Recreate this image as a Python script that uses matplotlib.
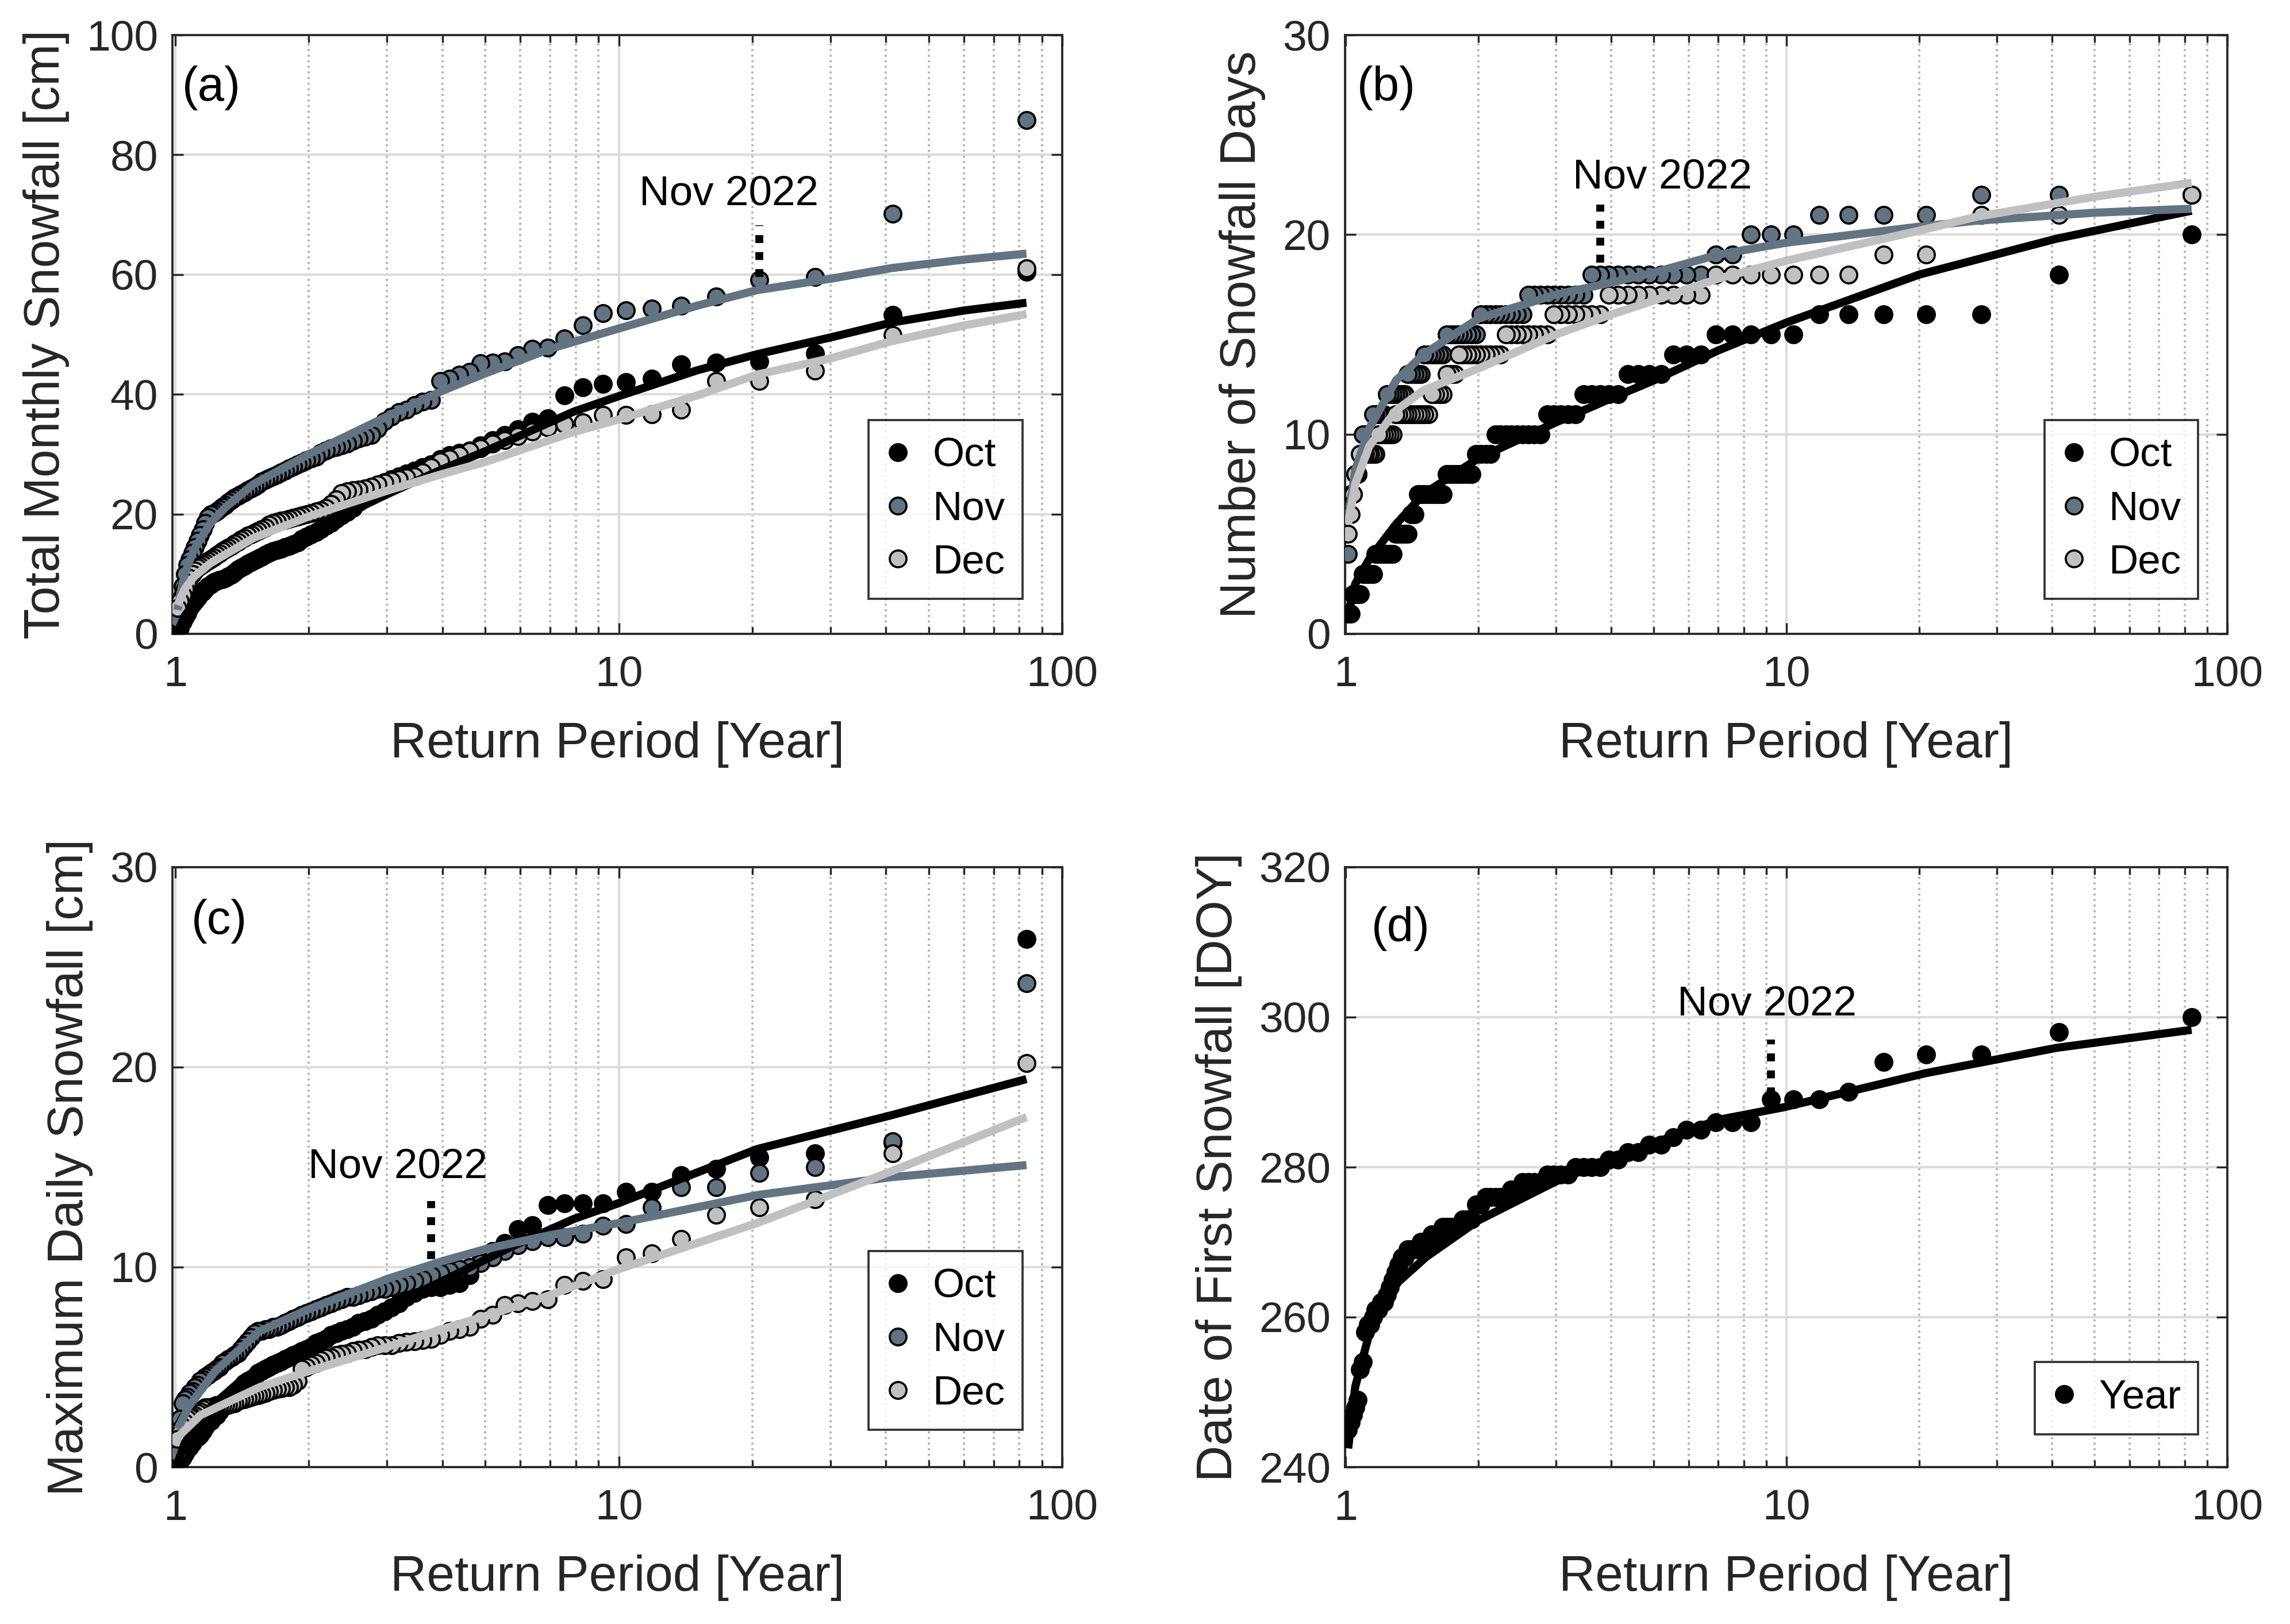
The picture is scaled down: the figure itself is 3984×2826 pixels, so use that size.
import matplotlib
matplotlib.use("Agg")
import matplotlib.pyplot as plt
from matplotlib.ticker import FixedLocator, FixedFormatter, LogLocator, NullFormatter

plt.rcParams['font.family'] = ['Liberation Sans', 'DejaVu Sans']

# return period [year] of each rank (rank 1 = largest of the 82 years)
return_period = [83.0, 41.5, 27.667, 20.75, 16.6, 13.833, 11.857, 10.375, 9.222, 8.3,
                 7.545, 6.917, 6.385, 5.929, 5.533, 5.188, 4.882, 4.611, 4.368, 4.15,
                 3.952, 3.773, 3.609, 3.458, 3.32, 3.192, 3.074, 2.964, 2.862, 2.767,
                 2.677, 2.594, 2.515, 2.441, 2.371, 2.306, 2.243, 2.184, 2.128, 2.075,
                 2.024, 1.976, 1.93, 1.886, 1.844, 1.804, 1.766, 1.729, 1.694, 1.66,
                 1.627, 1.596, 1.566, 1.537, 1.509, 1.482, 1.456, 1.431, 1.407, 1.383,
                 1.361, 1.339, 1.317, 1.297, 1.277, 1.258, 1.239, 1.221, 1.203, 1.186,
                 1.169, 1.153, 1.137, 1.122, 1.107, 1.092, 1.078, 1.064, 1.051, 1.038,
                 1.025, 1.012]

# (a) total monthly snowfall [cm], sorted by rank
a_oct = [60.5, 53.3, 46.8, 45.5, 45.3, 45.0, 42.6, 42.0, 41.7, 41.2,
         39.8, 36.0, 35.4, 34.2, 33.2, 32.3, 31.5, 30.6, 30.2, 29.8,
         29.2, 28.3, 27.8, 27.3, 26.8, 26.3, 25.8, 25.3, 24.8, 24.0,
         23.0, 22.0, 21.0, 20.3, 19.8, 19.2, 18.5, 18.0, 17.5, 17.0,
         16.6, 16.2, 15.8, 15.3, 15.0, 14.7, 14.5, 14.2, 14.0, 13.8,
         13.5, 13.2, 12.9, 12.6, 12.3, 12.0, 11.7, 11.3, 11.0, 10.7,
         10.3, 9.9, 9.6, 9.3, 9.1, 9.0, 8.8, 8.6, 8.3, 8.0,
         7.5, 7.0, 6.6, 6.0, 5.5, 5.0, 4.3, 3.5, 2.8, 2.0,
         1.0, 0.3]
a_nov = [85.8, 70.2, 59.6, 59.1, 56.3, 54.8, 54.3, 54.0, 53.6, 51.5,
         49.3, 47.8, 47.6, 46.5, 45.5, 45.3, 45.2, 43.8, 43.3, 42.6,
         42.2, 39.1, 38.8, 38.2, 37.4, 37.0, 36.3, 35.5, 34.3, 33.2,
         32.9, 32.6, 32.2, 31.8, 31.5, 31.2, 31.0, 30.6, 30.2, 29.6,
         29.3, 29.0, 28.6, 28.3, 27.9, 27.6, 27.3, 27.0, 26.6, 26.3,
         26.0, 25.7, 25.4, 25.0, 24.6, 24.3, 24.0, 23.6, 23.3, 23.0,
         22.7, 22.4, 22.0, 21.5, 21.2, 20.8, 20.4, 20.2, 20.0, 19.5,
         18.5, 17.5, 16.5, 15.5, 14.5, 13.5, 12.5, 11.5, 10.0, 8.0,
         5.0, 2.5]
a_dec = [61.0, 49.9, 44.0, 42.2, 42.2, 37.4, 36.7, 36.6, 36.6, 35.3,
         35.0, 34.5, 33.8, 33.0, 32.3, 31.8, 31.0, 30.5, 29.8, 29.3,
         28.8, 27.8, 27.0, 26.3, 26.1, 25.8, 25.5, 25.2, 25.0, 24.6,
         24.3, 24.1, 24.0, 23.8, 23.5, 22.5, 21.7, 21.0, 20.6, 20.4,
         20.2, 20.0, 19.8, 19.6, 19.4, 19.2, 19.0, 18.9, 18.7, 18.5,
         18.2, 17.8, 17.5, 17.2, 16.9, 16.6, 16.4, 16.0, 15.7, 15.4,
         15.1, 14.7, 14.4, 14.1, 13.8, 13.4, 13.1, 12.8, 12.5, 12.2,
         11.9, 11.6, 11.3, 11.0, 10.6, 10.0, 9.3, 8.5, 7.5, 6.5,
         5.5, 4.3]

# (b) number of snowfall days
b_oct = [20, 18, 16, 16, 16, 16, 16, 15, 15, 15,
         15, 15, 14, 14, 14, 13, 13, 13, 13, 12,
         12, 12, 12, 12, 11, 11, 11, 11, 11, 10,
         10, 10, 10, 10, 10, 10, 10, 10, 9, 9,
         9, 9, 8, 8, 8, 8, 8, 8, 8, 7,
         7, 7, 7, 7, 7, 7, 7, 6, 6, 5,
         5, 5, 5, 5, 4, 4, 4, 4, 4, 4,
         4, 3, 3, 3, 3, 3, 2, 2, 2, 2,
         1, 1]
b_nov = [22, 22, 22, 21, 21, 21, 21, 20, 20, 20,
         19, 19, 18, 18, 18, 18, 18, 18, 18, 18,
         18, 18, 18, 17, 17, 17, 17, 17, 17, 17,
         17, 17, 16, 16, 16, 16, 16, 16, 16, 16,
         16, 15, 15, 15, 15, 15, 15, 15, 15, 14,
         14, 14, 14, 14, 14, 13, 13, 13, 13, 13,
         12, 12, 12, 12, 12, 12, 12, 11, 11, 11,
         11, 11, 10, 10, 10, 10, 9, 8, 8, 7,
         7, 4]
b_dec = [22, 21, 21, 19, 19, 18, 18, 18, 18, 18,
         18, 18, 17, 17, 17, 17, 17, 17, 17, 17,
         17, 16, 16, 16, 16, 16, 16, 16, 15, 15,
         15, 15, 15, 15, 15, 15, 14, 14, 14, 14,
         14, 14, 14, 14, 14, 14, 13, 13, 13, 12,
         12, 12, 12, 11, 11, 11, 11, 11, 11, 11,
         11, 11, 11, 11, 10, 10, 10, 10, 10, 10,
         9, 9, 9, 9, 9, 9, 9, 8, 8, 7,
         6, 5]

# (c) maximum daily snowfall [cm]
c_oct = [26.4, 16.2, 15.7, 15.5, 14.9, 14.6, 13.75, 13.75, 13.2, 13.2,
         13.2, 13.1, 12.1, 11.9, 11.2, 10.8, 10.3, 9.6, 9.2, 9.1,
         9.0, 9.0, 8.9, 8.7, 8.5, 8.2, 8.0, 7.8, 7.6, 7.4,
         7.3, 7.2, 7.0, 6.9, 6.8, 6.7, 6.6, 6.4, 6.3, 6.2,
         6.0, 5.9, 5.8, 5.7, 5.6, 5.5, 5.4, 5.3, 5.2, 5.1,
         5.0, 4.9, 4.8, 4.7, 4.5, 4.4, 4.3, 4.2, 4.0, 3.8,
         3.6, 3.5, 3.3, 3.1, 3.0, 2.8, 2.6, 2.5, 2.3, 2.2,
         2.0, 1.8, 1.6, 1.5, 1.4, 1.2, 1.0, 0.9, 0.7, 0.5,
         0.3, 0.1]
c_nov = [24.2, 16.3, 15.0, 14.7, 14.0, 14.0, 13.0, 12.15, 12.06, 11.66,
         11.5, 11.5, 11.3, 11.1, 10.8, 10.5, 10.2, 10.0, 9.9, 9.8,
         9.7, 9.6, 9.4, 9.3, 9.2, 9.1, 9.0, 8.9, 8.9, 8.8,
         8.7, 8.6, 8.5, 8.5, 8.4, 8.3, 8.2, 8.1, 8.0, 7.9,
         7.8, 7.7, 7.6, 7.5, 7.4, 7.3, 7.2, 7.1, 7.0, 7.0,
         6.9, 6.9, 6.8, 6.8, 6.7, 6.5, 6.3, 6.1, 5.9, 5.7,
         5.6, 5.5, 5.4, 5.3, 5.2, 5.0, 4.9, 4.8, 4.7, 4.6,
         4.5, 4.4, 4.3, 4.1, 4.0, 3.8, 3.7, 3.5, 3.4, 3.2,
         2.4, 0.7]
c_dec = [20.2, 15.7, 13.4, 13.0, 12.6, 11.4, 10.7, 10.5, 9.4, 9.3,
         9.1, 8.4, 8.3, 8.2, 8.1, 7.6, 7.4, 7.0, 6.9, 6.8,
         6.6, 6.4, 6.35, 6.3, 6.25, 6.2, 6.1, 6.1, 6.1, 6.0,
         5.9, 5.85, 5.8, 5.7, 5.65, 5.6, 5.5, 5.45, 5.35, 5.2,
         5.1, 5.0, 4.9, 4.3, 4.1, 4.0, 4.0, 3.95, 3.9, 3.85,
         3.8, 3.7, 3.65, 3.6, 3.55, 3.5, 3.45, 3.4, 3.35, 3.3,
         3.2, 3.15, 3.1, 3.1, 3.1, 3.1, 3.1, 3.05, 3.0, 3.0,
         3.0, 2.9, 2.8, 2.7, 2.6, 2.5, 2.5, 2.4, 2.2, 2.0,
         1.7, 1.4]

# (d) date of first snowfall [DOY]
d_year = [300, 298, 295, 295, 294, 290, 289, 289, 289, 286,
          286, 286, 285, 285, 284, 283, 283, 282, 282, 281,
          281, 280, 280, 280, 280, 279, 279, 279, 279, 278,
          278, 278, 278, 277, 277, 276, 276, 276, 276, 276,
          275, 275, 273, 273, 273, 272, 272, 272, 272, 272,
          271, 271, 271, 270, 270, 270, 269, 269, 269, 269,
          268, 268, 267, 266, 265, 264, 263, 262, 262, 261,
          261, 260, 259, 259, 258, 254, 253, 249, 248, 247,
          246, 245]

# fitted curves (return period, value)
a_oct_fit_t = [1.012, 1.05, 1.1, 1.2, 1.5, 2, 3, 4, 5, 7.9, 10, 15, 20.5, 30, 41.3, 60, 83]
a_oct_fit = [0.3, 3.0, 5.0, 8.3, 12.6, 17.0, 23.3, 27.5, 30.5, 37.1, 39.7, 44.0, 46.7, 49.5, 52.0, 54.0, 55.3]
a_nov_fit_t = [1.012, 1.025, 1.05, 1.1, 1.2, 1.3, 1.5, 2, 3, 4, 5, 7, 10, 15, 20.5, 30, 41.3, 60, 83]
a_nov_fit = [4.0, 6.5, 10.0, 14.0, 18.5, 21.2, 25.0, 30.0, 36.3, 40.6, 43.5, 47.6, 51.0, 54.8, 57.4, 59.3, 61.1, 62.5, 63.5]
a_dec_fit_t = [1.012, 1.05, 1.1, 1.2, 1.5, 2, 3, 4, 5, 7.9, 10, 15, 20.5, 30, 41.3, 60, 83]
a_dec_fit = [4.8, 7.5, 9.5, 11.8, 16.0, 19.6, 23.9, 26.7, 28.7, 33.7, 35.8, 39.8, 43.3, 46.0, 48.9, 51.5, 53.4]

b_oct_fit_t = [1.012, 1.05, 1.13, 1.3, 1.5, 2, 3, 4, 5, 7, 10, 20, 41, 83]
b_oct_fit = [1.0, 2.5, 3.75, 5.5, 7.0, 8.8, 10.6, 11.8, 12.7, 14.2, 15.6, 18.0, 19.8, 21.2]
b_nov_fit_t = [1.012, 1.05, 1.13, 1.3, 1.5, 2, 3, 4, 5, 7, 10, 20, 27, 50, 83]
b_nov_fit = [5.8, 8.2, 10.3, 12.7, 14.0, 15.8, 17.0, 17.6, 18.1, 19.0, 19.6, 20.4, 20.7, 21.1, 21.3]
b_dec_fit_t = [1.012, 1.05, 1.13, 1.3, 1.5, 2, 3, 4, 5, 7, 10, 20, 27, 50, 83]
b_dec_fit = [5.5, 7.5, 9.4, 11.2, 12.2, 13.3, 15.0, 16.0, 16.7, 17.8, 18.7, 20.2, 20.9, 21.9, 22.6]

c_oct_fit_t = [1.012, 1.05, 1.1, 1.2, 1.4, 1.6, 2, 3, 4, 5.7, 7.9, 10, 20.5, 41.3, 83]
c_oct_fit = [0.2, 1.2, 1.9, 3.0, 4.3, 5.0, 6.2, 8.0, 9.3, 11.0, 12.4, 13.2, 15.9, 17.6, 19.4]
c_nov_fit_t = [1.012, 1.07, 1.23, 1.55, 2, 3, 4, 5, 7, 10, 20.5, 41.3, 83]
c_nov_fit = [1.9, 3.0, 4.8, 6.8, 7.9, 9.4, 10.3, 10.9, 11.6, 12.2, 13.6, 14.5, 15.1]
c_dec_fit_t = [1.012, 1.14, 1.55, 2, 3, 4, 5, 7, 10, 20.5, 41.3, 83]
c_dec_fit = [1.5, 2.6, 4.0, 4.8, 6.0, 6.9, 7.55, 8.6, 9.9, 12.2, 14.8, 17.5]

d_fit_t = [1.012, 1.05, 1.13, 1.31, 1.52, 2, 3, 4, 5, 7, 9.9, 20.6, 41, 83]
d_fit = [242.5, 250.7, 257.8, 264.6, 268.0, 272.9, 278.1, 281.1, 283.2, 286.3, 288.0, 292.5, 295.9, 298.3]

# rank of Nov 2022 in each panel (1 = largest)
nov2022_rank = {'a': 4, 'b': 22, 'c': 22, 'd': 9}

OCT_C = '#000000'
NOV_C = '#627482'
DEC_C = '#c0c0c0'
AX_C = '#262626'


def style_axes(ax, ylim, yticks, ylabel, xlim):
    ax.set_xscale('log')
    ax.set_xlim(xlim)
    ax.set_ylim(ylim)
    ax.xaxis.set_major_locator(FixedLocator([1, 10, 100]))
    ax.xaxis.set_major_formatter(FixedFormatter(['1', '10', '100']))
    ax.xaxis.set_minor_locator(LogLocator(base=10, subs=[2, 3, 4, 5, 6, 7, 8, 9]))
    ax.xaxis.set_minor_formatter(NullFormatter())
    ax.set_yticks(yticks)
    ax.grid(True, which='major', color='#dcdcdc', lw=1.0, zorder=0)
    ax.grid(True, which='minor', axis='x', color='#b4b4b4', lw=0.9,
            linestyle=(0, (1, 1.6)), zorder=0)
    ax.set_axisbelow(True)
    ax.tick_params(which='both', direction='in', top=True, right=True,
                   colors=AX_C, labelsize=18, width=0.8)
    ax.tick_params(which='major', length=4.5)
    ax.tick_params(which='minor', length=3)
    ax.tick_params(axis='x', which='major', pad=9)
    ax.tick_params(axis='y', which='major', pad=6)
    for sp in ax.spines.values():
        sp.set_color(AX_C)
        sp.set_linewidth(0.9)
    ax.set_xlabel('Return Period [Year]', fontsize=21, color=AX_C, labelpad=11)
    ax.set_ylabel(ylabel, fontsize=21, color=AX_C, labelpad=7)


def draw_points(ax, values, color, label):
    ax.plot(return_period, values, 'o', ms=7.0, mfc=color, mec='black',
            mew=0.9, label=label, zorder=3)


def draw_fit(ax, t, values, color):
    ax.plot(t, values, '-', color=color, lw=3.4, solid_capstyle='butt', zorder=4)


# dotted marker above the Nov 2022 point plus its label
def mark_nov2022(ax, rank, y_bottom, y_top, text_x, text_y):
    t = return_period[rank - 1]
    ax.plot([t, t], [y_bottom, y_top], color='black', lw=3.3,
            linestyle=(0, (1, 1.15)), dash_capstyle='butt', zorder=6)
    ax.text(text_x, text_y, 'Nov 2022', fontsize=17.5, ha='left', va='center',
            color='black', zorder=6)


def add_legend(ax, anchor):
    leg = ax.legend(loc='lower right', bbox_to_anchor=anchor, borderaxespad=0,
                    fontsize=17, frameon=True, fancybox=False, handlelength=0.6,
                    handletextpad=0.55, borderpad=0.42, labelspacing=0.38)
    leg.get_frame().set_edgecolor('black')
    leg.get_frame().set_linewidth(0.9)


fig = plt.figure(figsize=(13.28, 9.42), dpi=300)
ax_a = fig.add_axes([0.0753, 0.6097, 0.3886, 0.3687])
ax_b = fig.add_axes([0.5873, 0.6097, 0.3853, 0.3687])
ax_c = fig.add_axes([0.0753, 0.0966, 0.3886, 0.3695])
ax_d = fig.add_axes([0.5873, 0.0966, 0.3853, 0.3695])

# (a)
draw_points(ax_a, a_oct, OCT_C, 'Oct')
draw_points(ax_a, a_nov, NOV_C, 'Nov')
draw_points(ax_a, a_dec, DEC_C, 'Dec')
draw_fit(ax_a, a_oct_fit_t, a_oct_fit, OCT_C)
draw_fit(ax_a, a_nov_fit_t, a_nov_fit, NOV_C)
draw_fit(ax_a, a_dec_fit_t, a_dec_fit, DEC_C)
style_axes(ax_a, (0, 100), [0, 20, 40, 60, 80, 100], 'Total Monthly Snowfall [cm]', (0.985, 100))
mark_nov2022(ax_a, nov2022_rank['a'], 59.6, 68.2, 11.1, 73.4)
add_legend(ax_a, (0.955, 0.0585))
ax_a.text(0.011, 0.912, '(a)', transform=ax_a.transAxes, fontsize=20, va='center')

# (b)
draw_points(ax_b, b_oct, OCT_C, 'Oct')
draw_points(ax_b, b_nov, NOV_C, 'Nov')
draw_points(ax_b, b_dec, DEC_C, 'Dec')
draw_fit(ax_b, b_oct_fit_t, b_oct_fit, OCT_C)
draw_fit(ax_b, b_nov_fit_t, b_nov_fit, NOV_C)
draw_fit(ax_b, b_dec_fit_t, b_dec_fit, DEC_C)
style_axes(ax_b, (0, 30), [0, 10, 20, 30], 'Number of Snowfall Days', (0.995, 100))
mark_nov2022(ax_b, nov2022_rank['b'], 18.6, 21.5, 3.27, 22.85)
add_legend(ax_b, (0.967, 0.0585))
ax_b.text(0.014, 0.912, '(b)', transform=ax_b.transAxes, fontsize=20, va='center')

# (c)
draw_points(ax_c, c_oct, OCT_C, 'Oct')
draw_points(ax_c, c_nov, NOV_C, 'Nov')
draw_points(ax_c, c_dec, DEC_C, 'Dec')
draw_fit(ax_c, c_oct_fit_t, c_oct_fit, OCT_C)
draw_fit(ax_c, c_nov_fit_t, c_nov_fit, NOV_C)
draw_fit(ax_c, c_dec_fit_t, c_dec_fit, DEC_C)
style_axes(ax_c, (0, 30), [0, 10, 20, 30], 'Maximum Daily Snowfall [cm]', (0.985, 100))
mark_nov2022(ax_c, nov2022_rank['c'], 10.4, 13.3, 1.99, 15.0)
add_legend(ax_c, (0.955, 0.062))
ax_c.text(0.021, 0.91, '(c)', transform=ax_c.transAxes, fontsize=20, va='center')

# (d)
draw_points(ax_d, d_year, OCT_C, 'Year')
draw_fit(ax_d, d_fit_t, d_fit, OCT_C)
style_axes(ax_d, (240, 320), [240, 260, 280, 300, 320], 'Date of First Snowfall [DOY]', (0.995, 100))
mark_nov2022(ax_d, nov2022_rank['d'], 289.6, 297.0, 5.65, 301.7)
add_legend(ax_d, (0.967, 0.055))
ax_d.text(0.030, 0.897, '(d)', transform=ax_d.transAxes, fontsize=20, va='center')

fig.savefig('out.png', dpi=300)
